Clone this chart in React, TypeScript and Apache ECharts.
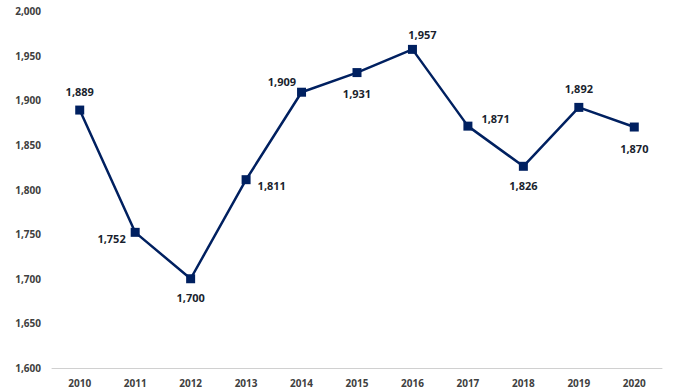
import React, { useEffect, useRef } from "react";
import * as echarts from "echarts";

const years = ["2010", "2011", "2012", "2013", "2014", "2015", "2016", "2017", "2018", "2019", "2020"];
const values = [1889, 1752, 1700, 1811, 1909, 1931, 1957, 1871, 1826, 1892, 1870];
const labelPositions = ["top", "left", "bottom", "right", "left", "bottom", "top", "right", "bottom", "top", "bottom"];
const labelOffsets: number[][] = [[0, -2], [2, 6], [0, 2], [0, 6], [6, -11], [0, 4], [10, 2], [2, -8], [0, 2], [0, -2], [0, 4]];

export default function App() {
  const ref = useRef<HTMLDivElement>(null);
  useEffect(() => {
    if (!ref.current) return;
    const chart = echarts.init(ref.current, null, { renderer: "svg" });
    const font = "'Open Sans', sans-serif";
    chart.setOption({
      animation: false,
      grid: { left: 52, right: 12, top: 11, bottom: 24 },
      xAxis: {
        type: "category",
        data: years,
        boundaryGap: true,
        axisLine: { lineStyle: { color: "#d0d0d0", width: 1 } },
        axisTick: { show: false },
        axisLabel: { color: "#404040", fontFamily: font, fontWeight: "bold", fontSize: 10, margin: 10 },
      },
      yAxis: {
        type: "value",
        min: 1600,
        max: 2000,
        interval: 50,
        axisLine: { show: false },
        axisTick: { show: false },
        splitLine: { show: false },
        axisLabel: {
          color: "#404040",
          fontFamily: font,
          fontWeight: "bold",
          fontSize: 10,
          margin: 11,
          formatter: (v: number) => v.toLocaleString("en-US"),
        },
      },
      series: [
        {
          type: "line",
          data: values.map((v, i) => ({
            value: v,
            label: { position: labelPositions[i], offset: labelOffsets[i] },
          })),
          symbol: "rect",
          symbolSize: 9,
          lineStyle: { color: "#002060", width: 2.5 },
          itemStyle: { color: "#002060" },
          label: {
            show: true,
            color: "#1a1f2e",
            fontFamily: font,
            fontWeight: "bold",
            fontSize: 11,
            distance: 7,
            formatter: (p: any) => Number(p.value).toLocaleString("en-US"),
          },
        },
      ],
    });
    return () => chart.dispose();
  }, []);
  return <div ref={ref} style={{ position: "absolute", left: 0, top: 0, width: 674, height: 392 }} />;
}
